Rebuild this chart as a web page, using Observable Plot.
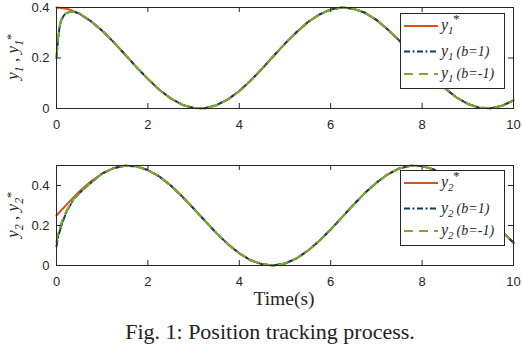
<!DOCTYPE html>
<html><head><meta charset="utf-8">
<script src="https://cdn.jsdelivr.net/npm/d3@7"></script>
<script src="https://cdn.jsdelivr.net/npm/@observablehq/plot@0.6"></script>
<style>
html,body{margin:0;padding:0;background:#fff;}
#wrap{position:relative;width:522px;height:346px;overflow:hidden;background:#fff;}
.abs{position:absolute;left:0;}
</style></head><body><div id="wrap"></div>
<script>
// ---- data ----
const xTicks = [0, 2, 4, 6, 8, 10];
const y1Ticks = [0, 0.2, 0.4];
const y2Ticks = [0, 0.2, 0.4];
const tRef = [0,0.25,0.5,0.75,1,1.25,1.5,1.75,2,2.25,2.5,2.75,3,3.25,3.5,3.75,4,4.25,4.5,4.75,5,5.25,5.5,5.75,6,6.25,6.5,6.75,7,7.25,7.5,7.75,8,8.25,8.5,8.75,9,9.25,9.5,9.75,10];
const y1Ref = [0.400,0.394,0.376,0.346,0.308,0.263,0.214,0.164,0.117,0.074,0.040,0.015,0.002,0.001,0.013,0.036,0.069,0.111,0.158,0.208,0.257,0.302,0.342,0.372,0.392,0.400,0.395,0.379,0.351,0.313,0.269,0.222,0.171,0.123,0.080,0.044,0.018,0.003,0.001,0.011,0.032];
const y2Ref = [0.250,0.312,0.370,0.420,0.460,0.487,0.499,0.496,0.477,0.445,0.400,0.345,0.285,0.223,0.162,0.107,0.061,0.026,0.006,0.000,0.010,0.035,0.074,0.123,0.180,0.242,0.304,0.363,0.414,0.456,0.485,0.499,0.497,0.481,0.450,0.406,0.353,0.294,0.231,0.170,0.114];
// transient start of the tracked outputs
const tEarly1 = [0,0.03,0.06,0.1,0.15,0.2,0.3,0.4];
const y1b1Early = [0.200,0.265,0.315,0.348,0.366,0.376,0.383,0.382];
const y1bm1Early = [0.205,0.275,0.322,0.352,0.368,0.377,0.384,0.382];
const tEarly2 = [0,0.03,0.065,0.12,0.23,0.38,0.56,0.75];
const y2b1Early = [0.095,0.140,0.167,0.210,0.275,0.333,0.375,0.413];
const y2bm1Early = [0.115,0.160,0.185,0.222,0.280,0.335,0.376,0.413];

const C_REF = "#D95319", C_B1 = "#0E3B63", C_BM1 = "#77AC30", AX = "#262626";
const DASH_B1 = "6,2.5,2,2.5", DASH_BM1 = "9,6";

const pts = (ts, ys) => ts.map((t, i) => ({t, y: ys[i]}));
const ref1 = pts(tRef, y1Ref);
const ref2 = pts(tRef, y2Ref);
const y1b1 = pts(tEarly1, y1b1Early).concat(ref1.slice(2));
const y1bm1 = pts(tEarly1, y1bm1Early).concat(ref1.slice(2));
const y2b1 = pts(tEarly2, y2b1Early).concat(ref2.slice(4));
const y2bm1 = pts(tEarly2, y2bm1Early).concat(ref2.slice(4));

const wrap = document.getElementById("wrap");
const W = 522, ML = 56, MR = 9;

function panel({height, mt, mb, yDomain, yTicks, ref, b1, bm1}) {
  const ph = height - mt - mb, pw = W - ML - MR;
  return Plot.plot({
    width: W, height, marginLeft: ML, marginRight: MR, marginTop: mt, marginBottom: mb,
    style: {fontFamily: "'Liberation Sans', Arial, sans-serif", fontSize: "13px", color: AX, background: "transparent"},
    x: {domain: [0, 10]},
    y: {domain: yDomain},
    marks: [
      Plot.line(ref, {x: "t", y: "y", stroke: C_REF, strokeWidth: 2}),
      Plot.line(b1, {x: "t", y: "y", stroke: C_B1, strokeWidth: 2, strokeDasharray: DASH_B1}),
      Plot.line(bm1, {x: "t", y: "y", stroke: C_BM1, strokeWidth: 2, strokeDasharray: DASH_BM1}),
      Plot.frame({stroke: AX, strokeWidth: 1}),
      Plot.tickX(xTicks, {x: d => d, insetTop: ph - 5, stroke: AX}),
      Plot.tickX(xTicks, {x: d => d, insetBottom: ph - 5, stroke: AX}),
      Plot.tickY(yTicks, {y: d => d, insetRight: pw - 5, stroke: AX}),
      Plot.tickY(yTicks, {y: d => d, insetLeft: pw - 5, stroke: AX}),
      Plot.axisX({ticks: xTicks, tickSize: 0, tickPadding: 11, label: null, tickFormat: d => String(d), fill: AX}),
      Plot.axisY({ticks: yTicks, tickSize: 0, tickPadding: 7, label: null, tickFormat: d => String(d), fill: AX})
    ]
  });
}

const p1 = panel({height: 135, mt: 7, mb: 27, yDomain: [0, 0.4], yTicks: y1Ticks, ref: ref1, b1: y1b1, bm1: y1bm1});
p1.classList.add("abs"); p1.style.top = "0px";
wrap.appendChild(p1);
const p2 = panel({height: 160, mt: 15, mb: 45, yDomain: [0, 0.5], yTicks: y2Ticks, ref: ref2, b1: y2b1, bm1: y2bm1});
p2.classList.add("abs"); p2.style.top = "150px";
wrap.appendChild(p2);

// ---- overlay: y labels, legends, x label, caption ----
const SERIF = "'Liberation Serif','Times New Roman',serif";
function legend(idx, top) {
  const rows = [
    {c: C_REF, d: null, extra: null, star: true},
    {c: C_B1, d: DASH_B1, extra: "(b=1)", star: false},
    {c: C_BM1, d: DASH_BM1, extra: "(b=-1)", star: false}
  ];
  const offs = [13, 38.5, 61];
  let s = `<rect x="400.5" y="${top + 0.5}" width="104" height="75" fill="#fff" stroke="${AX}" stroke-width="1"/>`;
  rows.forEach((r, i) => {
    const y = top + offs[i];
    s += `<line x1="404" x2="438" y1="${y}" y2="${y}" stroke="${r.c}" stroke-width="2" ${r.d ? `stroke-dasharray="${r.d}"` : ""}/>`;
    s += `<text x="441" y="${y + 4}" font-family="${SERIF}" font-style="italic" fill="${AX}" font-size="16">y<tspan font-size="11" dy="4">${idx}</tspan>`;
    if (r.star) s += `<tspan font-size="13" dy="-11" dx="-1">*</tspan>`;
    if (r.extra) s += `<tspan font-size="14" dy="-4" dx="3">${r.extra}</tspan>`;
    s += `</text>`;
  });
  return s;
}
function ylab(idx, cy) {
  return `<text transform="translate(18,${cy}) rotate(-90)" text-anchor="middle" font-family="${SERIF}" font-style="italic" font-size="17" fill="${AX}">y<tspan font-size="12" dy="5">${idx}</tspan><tspan dy="-5" font-style="normal"> , </tspan>y<tspan font-size="12" dy="5">${idx}</tspan><tspan font-size="13" dy="-8" dx="-1">*</tspan></text>`;
}
const ov = document.createElementNS("http://www.w3.org/2000/svg", "svg");
ov.setAttribute("width", 522); ov.setAttribute("height", 346);
ov.setAttribute("class", "abs"); ov.style.top = "0px";
ov.innerHTML = ylab(1, 57) + ylab(2, 215) + legend(1, 13) + legend(2, 170) +
  `<text x="284" y="305" text-anchor="middle" font-family="${SERIF}" font-size="19.5" fill="${AX}">Time(s)</text>` +
  `<text x="270" y="339" text-anchor="middle" font-family="${SERIF}" font-size="22" fill="#222">Fig. 1: Position tracking process.</text>`;
wrap.appendChild(ov);
</script></body></html>
